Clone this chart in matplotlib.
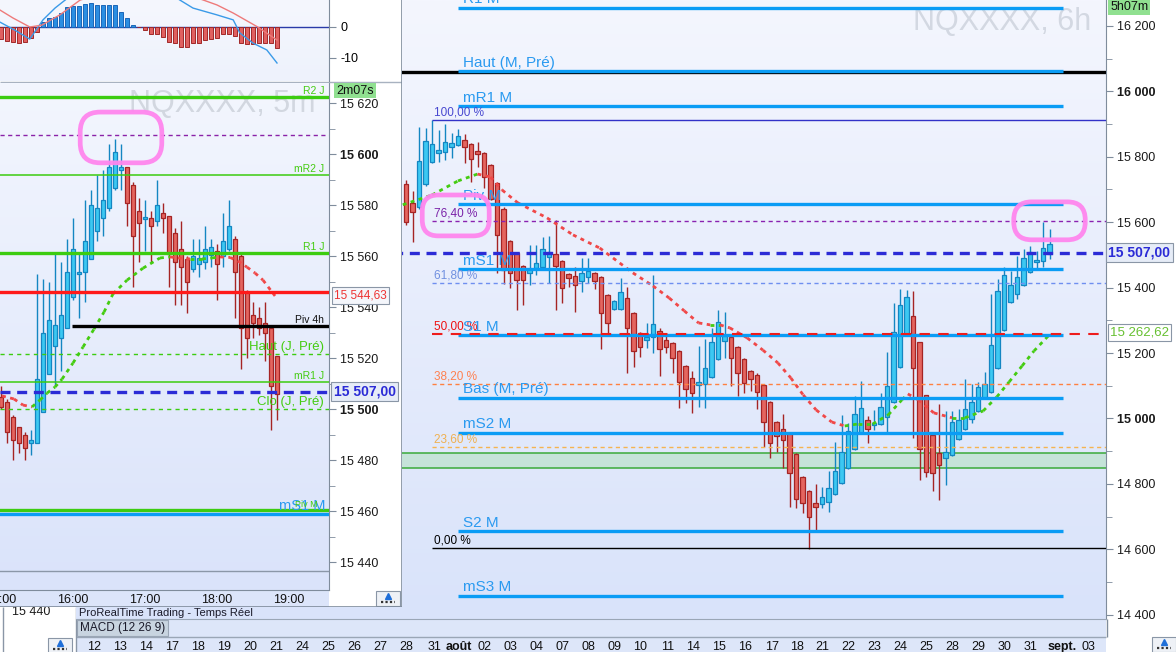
import matplotlib
matplotlib.use("Agg")
import matplotlib.pyplot as plt
from matplotlib.patches import Rectangle, FancyBboxPatch
from matplotlib.colors import LinearSegmentedColormap
import numpy as np

plt.rcParams['font.family'] = ['Liberation Sans', 'DejaVu Sans']

W, H = 1176, 652

# ---------------- 6h chart (NQXXXX, 6h) ----------------
h6_open = [15717, 15659, 15646, 15717, 15784, 15811, 15814, 15830, 15836, 15851,
           15839, 15818, 15811, 15775, 15720, 15640, 15543, 15506, 15466, 15445,
           15460, 15463, 15494, 15503, 15481, 15442, 15436, 15420, 15433, 15445,
           15433, 15377, 15335, 15335, 15368, 15322, 15261, 15240, 15249, 15267,
           15240, 15231, 15206, 15160, 15124, 15102, 15105, 15127, 15182, 15237,
           15249, 15219, 15182, 15145, 15133, 15102, 15050, 14989, 14968, 14956,
           14892, 14821, 14778, 14742, 14739, 14745, 14769, 14803, 14849, 14907,
           14956, 14995, 14980, 14983, 15005, 15050, 15157, 15255, 15313, 15234,
           15072, 14950, 14895, 14879, 14889, 14937, 14968, 14998, 15023, 15063,
           15081, 15154, 15271, 15356, 15380, 15408, 15448, 15478, 15481, 15503]
h6_high = [15729, 15695, 15891, 15888, 15912, 15882, 15900, 15873, 15885, 15869,
           15842, 15845, 15813, 15778, 15722, 15646, 15545, 15508, 15468, 15530,
           15530, 15555, 15558, 15607, 15483, 15444, 15463, 15491, 15491, 15447,
           15435, 15379, 15362, 15429, 15402, 15324, 15263, 15292, 15439, 15277,
           15261, 15233, 15208, 15162, 15145, 15222, 15243, 15277, 15332, 15326,
           15251, 15221, 15184, 15147, 15139, 15104, 15052, 14991, 15014, 14958,
           14894, 14823, 14780, 14800, 14791, 14840, 14928, 15011, 14986, 15069,
           15115, 15008, 15026, 15078, 15203, 15353, 15396, 15393, 15390, 15234,
           15072, 14950, 15044, 15023, 15023, 15029, 15121, 15106, 15112, 15142,
           15380, 15426, 15463, 15451, 15497, 15518, 15527, 15512, 15601, 15579]
h6_low = [15591, 15539, 15640, 15712, 15780, 15784, 15790, 15796, 15833, 15781,
          15723, 15769, 15704, 15668, 15445, 15411, 15399, 15332, 15347, 15408,
          15439, 15460, 15414, 15332, 15353, 15402, 15326, 15387, 15414, 15396,
          15212, 15261, 15332, 15332, 15139, 15157, 15188, 15215, 15200, 15130,
          15200, 15139, 15032, 15047, 15017, 15035, 15032, 15124, 15179, 15185,
          15099, 15069, 15078, 15084, 15029, 14913, 14879, 14898, 14849, 14730,
          14727, 14711, 14601, 14659, 14727, 14714, 14766, 14800, 14846, 14904,
          14953, 14925, 14965, 14980, 14959, 15047, 15154, 15252, 14940, 14812,
          14821, 14779, 14751, 14797, 14886, 14934, 14965, 14986, 15020, 15060,
          15078, 15151, 15268, 15353, 15365, 15405, 15445, 15460, 15463, 15488]
h6_close = [15601, 15631, 15787, 15848, 15839, 15821, 15845, 15842, 15863, 15830,
            15793, 15808, 15738, 15671, 15561, 15454, 15445, 15423, 15423, 15457,
            15475, 15518, 15509, 15466, 15399, 15429, 15408, 15445, 15451, 15420,
            15322, 15292, 15359, 15387, 15277, 15206, 15219, 15249, 15289, 15212,
            15219, 15185, 15112, 15090, 15078, 15112, 15154, 15234, 15295, 15252,
            15185, 15139, 15109, 15121, 15081, 14989, 14925, 14947, 14934, 14833,
            14754, 14742, 14699, 14730, 14760, 14788, 14840, 14898, 14962, 15014,
            15032, 14968, 14986, 15035, 15099, 15264, 15347, 15371, 15154, 14907,
            14837, 14834, 14858, 14898, 14989, 14995, 15029, 15050, 15096, 15106,
            15225, 15390, 15439, 15408, 15432, 15491, 15509, 15484, 15521, 15533]

# moving average (candle index, price)
ma6_x = [-0.5, 4, 8, 11, 13, 14.8, 17.2, 21.7, 25.7, 29.8, 34.9, 38, 40.5, 42.8,
         45, 46.8, 48.3, 49.8, 52.5, 54.9, 57.2, 59.2, 61.1, 63.1, 65.5, 67.5,
         69.5, 71.8, 74.2, 76.3, 77.2, 78.8, 81.2, 84, 86, 88.8, 90.9, 92.8,
         94.8, 96.6, 98.8]
ma6_y = [15653, 15683, 15726, 15747, 15738, 15698, 15659, 15613, 15561, 15521,
         15445, 15405, 15368, 15329, 15292, 15286, 15286, 15277, 15246, 15209,
         15170, 15124, 15072, 15026, 14989, 14977, 14983, 14983, 15011, 15057,
         15075, 15057, 15017, 15002, 15002, 15023, 15066, 15112, 15161, 15206,
         15252]

h6_dates = ["12", "13", "14", "17", "18", "19", "20", "21", "24", "25", "26", "27",
            "28", "31", "août", "02", "03", "04", "07", "08", "09", "10", "11",
            "14", "15", "16", "17", "18", "21", "22", "23", "24", "25", "28", "29",
            "30", "31", "sept.", "03"]
h6_date_pos = [-48, -44, -40, -36, -32, -28, -24, -20, -16, -12, -8, -4,
               0, 4.4, 8.1, 12, 16, 20, 24, 28, 32, 36, 40.2,
               44.2, 48.2, 52.2, 56.3, 60.2, 64, 68, 72, 76, 80, 84, 88,
               92, 96, 101, 105]

month_names = ["R1 M", "Haut (M, Pré)", "mR1 M", "Piv M", "mS1 M", "S1 M",
               "Bas (M, Pré)", "mS2 M", "S2 M", "mS3 M"]
month_levels = [16255, 16062, 15955, 15655, 15457, 15255, 15063, 14956, 14656, 14458]
month_start, month_end = 8, 101

fib_names = ["100,00 %", "76,40 %", "61,80 %", "50,00 %", "38,20 %", "23,60 %", "0,00 %"]
fib_levels = [15912, 15604, 15414, 15258, 15105, 14913, 14604]
fib_start = 4

zone_6h = [14849, 14895]
black_6h = 16059
last_price = 15507.00
fib50_price = 15262.62

# ---------------- 5m chart (NQXXXX, 5m) ----------------
m5_open = [15505, 15503, 15497, 15493, 15490, 15487, 15487, 15499, 15514, 15525,
           15528, 15532, 15544, 15553, 15554, 15559, 15570, 15575, 15579, 15587,
           15594, 15595, 15588, 15578, 15575, 15575, 15574, 15577, 15576, 15569,
           15563, 15559, 15555, 15557, 15558, 15560.5, 15562, 15560, 15563, 15567,
           15560, 15546, 15537, 15536, 15534, 15532, 15521]
m5_high = [15509, 15504, 15498, 15493, 15491, 15492, 15553, 15551, 15550, 15561,
           15558, 15567, 15575, 15561, 15582, 15586, 15592, 15594, 15604, 15606,
           15604, 15595, 15589, 15583, 15582, 15578, 15590, 15581, 15576, 15571,
           15574, 15560, 15567, 15567, 15572, 15567, 15565, 15577, 15582, 15568,
           15561, 15547, 15542, 15540, 15542, 15533, 15521]
m5_low = [15500, 15487, 15480, 15483, 15480, 15482, 15487, 15499, 15514, 15509,
          15515, 15532, 15543, 15536, 15542, 15559, 15566, 15568, 15578, 15586,
          15586, 15572, 15548, 15558, 15562, 15558, 15572, 15569, 15548, 15541,
          15541, 15538, 15554, 15552, 15555, 15556, 15543, 15556, 15562, 15536,
          15516, 15520, 15528, 15529, 15519, 15492, 15496]
m5_close = [15501, 15491, 15488, 15487, 15485, 15488, 15512, 15530, 15535, 15533,
            15537, 15554, 15563, 15554, 15566, 15580, 15579, 15582, 15595, 15601,
            15595, 15581, 15568, 15573, 15575.3, 15572, 15580, 15575, 15561, 15558,
            15556, 15550, 15560, 15559.5, 15563, 15563.5, 15557, 15566, 15572, 15554,
            15532, 15528, 15534, 15532, 15530, 15509, 15506]

maL_x = [0.17, 2.17, 3.67, 5.17, 6.5, 7.67, 9, 10.17, 12, 13.67, 15.5, 17.17,
         18.67, 21, 23.67, 26.5, 28.17, 29.5, 31.5, 33.5, 35.17, 36.5, 38.17,
         39.5, 41, 42.33, 43.67, 45.67]
maL_y = [15505.3, 15504.1, 15501.7, 15501.0, 15503.7, 15506.4, 15508.8, 15511.9,
         15518.2, 15524.5, 15531.5, 15538.2, 15545.3, 15550.7, 15555.4, 15559.4,
         15559.8, 15559.4, 15559.0, 15559.0, 15559.4, 15559.8, 15559.6, 15558.2,
         15555.8, 15553.5, 15550.7, 15544.5]

m5_times = ["15:00", "16:00", "17:00", "18:00", "19:00"]
m5_time_pos = [0, 12, 24, 36, 48]

day_names = ["R2 J", "mR2 J", "R1 J", "Haut (J, Pré)", "mR1 J", "Clo (J, Pré)"]
day_levels = [15622.5, 15591.9, 15561.3, 15521.7, 15510.8, 15500.2]
purple_5m = 15607.6
red_5m = 15546.0
red_5m_label = "15 544,63"
piv4h = 15532.7
piv4h_start = 11.8
piv_m_5m = 15460.6
ms1_m_5m = 15459.0
gray_5m = 15436.7

# MACD (12 26 9) on 5m
macd_hist = [-4.1, -4.5, -4.8, -5.1, -4.8, -3.8, -1.8, 1.5, 2.7, 3.2,
             4.3, 6.2, 6.7, 6.7, 7.3, 7.7, 6.9, 6.9, 6.9, 6.9,
             4.8, 2.7, 0.5, 0.0, -1.1, -2.2, -2.5, -3.2, -4.8, -5.1,
             -6.7, -6.5, -5.4, -5.4, -4.3, -4.1, -3.8, -2.2, -2.2, -3.0,
             -5.4, -5.7, -5.7, -5.4, -5.4, -5.4, -7.0]
macd_x = [-0.2, 2.3, 4.8, 7, 9, 10.7, 13, 18, 24, 27, 29.8, 32, 36, 38.7, 39.8, 42, 44.3, 46]
macd_line = [1.5, -1.1, -4.0, 2.2, 6.0, 8.6, 12, 15, 15, 12, 8.6, 6.0, 3.8, 2.2, -2.0, -5.3, -7.5, -11.7]
signal_x = [-0.2, 2, 4.8, 6.8, 9.8, 13.2, 18, 24, 30, 33.7, 36, 38.7, 42.7, 44.3, 46]
signal_line = [5.4, 2.8, -0.1, 0.5, 3.8, 8.6, 11, 12, 11, 8.6, 7.0, 4.4, 0.0, -2.1, -4.3]

# pink hand-drawn marks (x range, price range)
pink_5m = [13.2, 26.8, 15596.7, 15616.6]
pink_6h_a = [2.5, 12.8, 15558, 15683]
pink_6h_b = [93.5, 104.5, 15546, 15662]

# ---------------- styles ----------------
UP_FC, UP_EC = '#3cc8f2', '#1486c2'
DN_FC, DN_EC = '#e4655f', '#a52424'
LEVEL_BLUE = '#0a9cf5'
LABEL_BLUE = '#2a9af0'
PRICE_BLUE = '#2b2bd6'
GREEN = '#3ccc10'
MA_GREEN = '#44cc11'
MA_RED = '#f04848'
AXIS_GRAY = '#7f8c9c'


def fmt(v):
    return f"{v:,}".replace(",", " ")


def rect(x0, y0, x1, y1):
    return [x0 / W, 1 - y1 / H, (x1 - x0) / W, (y1 - y0) / H]


def gradient_bg(ax, top, bottom):
    cmap = LinearSegmentedColormap.from_list("bg", [bottom, top])
    grad = np.linspace(0, 1, 256).reshape(-1, 1)
    ax.imshow(grad, extent=[0, 1, 0, 1], transform=ax.transAxes, cmap=cmap,
              aspect='auto', origin='lower', zorder=0, interpolation='bilinear')


def candles(ax, o, h, l, c, width, min_body):
    for xi, (oi, hi, li, ci) in enumerate(zip(o, h, l, c)):
        up = ci >= oi
        fc = UP_FC if up else DN_FC
        ec = UP_EC if up else DN_EC
        ax.vlines(xi, li, hi, colors=ec, lw=1.0, zorder=4)
        hgt = max(abs(ci - oi), min_body)
        base = (oi + ci) / 2 - hgt / 2
        ax.add_patch(Rectangle((xi - width / 2, base), width, hgt, fc=fc, ec=ec,
                               lw=0.9, zorder=5))


def ma_line(ax, xs, ys):
    for i in range(len(xs) - 1):
        col = MA_GREEN if ys[i + 1] >= ys[i] else MA_RED
        ax.plot(xs[i:i + 2], ys[i:i + 2], color=col, lw=2.0, ls=(0, (1.4, 1.6)),
                zorder=6, dash_capstyle='butt')


def label(ax, x, y, text, color, size, ha='left', xcoord='data', dy=1.5, weight='normal'):
    ax.annotate(text, (x, y), xycoords=(xcoord, 'data'), xytext=(0, dy),
                textcoords='offset points', ha=ha, va='bottom', color=color,
                fontsize=size, zorder=8, annotation_clip=False, fontweight=weight)


def price_box(ax, y, text, color, fc, size=9, weight='normal', x=1.015):
    ax.text(x, y, text, transform=ax.get_yaxis_transform(), ha='left', va='center',
            color=color, fontsize=size, fontweight=weight, zorder=9, clip_on=False,
            bbox=dict(boxstyle='square,pad=0.18', fc=fc, ec='#8a96a6', lw=0.8))


def icon(ax, x, y):
    ax.add_patch(Rectangle((x, y), 24, 15, fc='#eef1f6', ec='#8a96a6', lw=0.8))
    ax.plot([x + 12], [y + 5], marker='^', ms=5, color='#1f6fd8')
    ax.hlines(y + 11, x + 5, x + 19, color='#333333', lw=1.6, linestyles=(0, (1, 1)))


fig = plt.figure(figsize=(W / 100, H / 100), dpi=100)
fig.patch.set_facecolor('white')

# ---------- background chrome ----------
axC = fig.add_axes(rect(0, 0, W, H), zorder=0)
axC.set_xlim(0, W)
axC.set_ylim(H, 0)
axC.axis('off')
axC.add_patch(Rectangle((76, 619), 1030, 33, fc='#dde6f9', ec='none'))
axC.hlines(637, 76, 1106, color='#9aa6b6', lw=1)
axC.vlines(1106.5, 619, 637, color=AXIS_GRAY, lw=1)
axC.vlines(76, 607, 652, color='#8a96a6', lw=1)
axC.vlines(3, 607, 652, color='#8a96a6', lw=1)
axC.add_patch(Rectangle((77, 620), 91, 16, fc='#c8d4e0', ec='#9aa6b6', lw=0.8))
axC.text(80, 628.5, "MACD (12 26 9)", fontsize=8.5, va='center', color='#1a1a2a')
axC.text(12, 612, "15 440", fontsize=9, va='center', color='#1a1a1a')
icon(axC, 48, 638)
icon(axC, 1152, 637)

# ---------- 6h chart ----------
ax6 = fig.add_axes(rect(76, 0, 1106, 619), zorder=1)
gradient_bg(ax6, '#f4f6fe', '#d9e3fa')
candles(ax6, h6_open, h6_high, h6_low, h6_close, 0.72, 5)
ma_line(ax6, ma6_x, ma6_y)

ax6.axhspan(zone_6h[0], zone_6h[1], fc='#c5e3d9', ec='none', zorder=2)
ax6.axhline(zone_6h[0], color='#3aaa3a', lw=1.1, zorder=2)
ax6.axhline(zone_6h[1], color='#3aaa3a', lw=1.1, zorder=2)

fib_colors = ['#3232c8', '#8a22b0', '#6f8ff0', '#ee1c1c', '#ff8040', '#f5b450', '#000000']
fib_text = ['#4848d0', '#7a22a8', '#7090e0', '#ee1111', '#ff8050', '#f0b050', '#000000']
for name, lv, col, tcol in zip(fib_names, fib_levels, fib_colors, fib_text):
    if name in ("100,00 %", "0,00 %"):
        ax6.hlines(lv, fib_start, 110, color=col, lw=1.0, zorder=6)
    elif name == "50,00 %":
        ax6.hlines(lv, fib_start, 110, color=col, lw=1.5, linestyles=(0, (5, 4)), zorder=7)
    else:
        ax6.hlines(lv, fib_start, 110, color=col, lw=1.0, linestyles=(0, (3, 2.5)), zorder=6)
    label(ax6, fib_start + 0.3, lv, name, tcol, 8.5, dy=1.0)

ax6.axhline(black_6h, color='black', lw=2.4, zorder=6)
for name, lv in zip(month_names, month_levels):
    ax6.hlines(lv, month_start, month_end, color=LEVEL_BLUE, lw=2.4, zorder=6)
    label(ax6, month_start + 0.8, lv, name, LABEL_BLUE, 11, dy=1.0)

ax6.axhline(last_price, color=PRICE_BLUE, lw=2.4, ls=(0, (3.0, 2.0)), zorder=7)

ax6.text(0.899, 0.964, "NQXXXX, 6h", transform=ax6.transAxes, ha='center', va='center',
         fontsize=22, color='#d3d8e2', zorder=1)

ax6.set_xlim((76 - 406) / 6.5, (1106 - 406) / 6.5)
ax6.set_ylim(14387, 16279)
ax6.yaxis.tick_right()
h6_ticks = list(range(14400, 16201, 200))
ax6.set_yticks(h6_ticks, [fmt(v) for v in h6_ticks])
ax6.set_yticks(list(range(14500, 16201, 200)), minor=True)
ax6.tick_params(axis='y', which='both', direction='out', color=AXIS_GRAY,
                labelcolor='#1a1a1a', labelsize=9, pad=3)
ax6.tick_params(axis='y', which='major', length=5)
ax6.tick_params(axis='y', which='minor', length=4)
for t in ax6.get_yticklabels():
    if t.get_text() in ("16 000", "15 000"):
        t.set_fontweight('bold')
ax6.set_xticks(h6_date_pos, h6_dates)
ax6.tick_params(axis='x', length=0, pad=16, labelsize=9, labelcolor='#111111')
for t in ax6.get_xticklabels():
    if t.get_text() in ("août", "sept."):
        t.set_fontweight('bold')
for s in ('left', 'top'):
    ax6.spines[s].set_visible(False)
ax6.spines['right'].set_color(AXIS_GRAY)
ax6.spines['bottom'].set_color('#9aa6b6')

price_box(ax6, last_price, fmt(int(last_price)) + ",00", PRICE_BLUE, '#e6ecf7',
          size=10, weight='bold', x=1.002)
price_box(ax6, fib50_price, "15 262,62", '#66c030', 'white', size=9.5, x=1.004)
ax6.text(1.004, 0.989, "5h07m", transform=ax6.transAxes, ha='left', va='center',
         fontsize=9, color='#111111', zorder=9, clip_on=False,
         bbox=dict(boxstyle='square,pad=0.15', fc='#90e090', ec='none'))

# ---------- left window (5m) ----------
axW = fig.add_axes(rect(0, 0, 402, 607), zorder=2)
axW.set_xlim(0, 402)
axW.set_ylim(607, 0)
axW.axis('off')
axW.add_patch(Rectangle((0, 0), 402, 607, fc='white', ec='none'))
axW.add_patch(Rectangle((0, 590), 329, 17, fc='#dce5fa', ec='none'))
axW.hlines(82, 0, 402, color='#a8b2c0', lw=1)
axW.vlines(401.5, 0, 607, color=AXIS_GRAY, lw=1.2)
axW.hlines(606.5, 0, 402, color=AXIS_GRAY, lw=1.2)
icon(axW, 376, 591)

# MACD pane
axM = fig.add_axes(rect(0, 0, 329, 81), zorder=3)
gradient_bg(axM, '#f5f7fe', '#eef2fc')
xs = np.arange(len(macd_hist))
axM.bar(xs, macd_hist, width=0.75,
        color=['#2b8ee2' if v > 0 else '#e06060' for v in macd_hist],
        edgecolor=['#1a66b8' if v > 0 else '#a02828' for v in macd_hist],
        lw=0.7, zorder=3)
axM.axhline(0, color='#2a3aa8', lw=1.0, zorder=2)
axM.plot(macd_x, macd_line, color='#3a9ae8', lw=1.0, zorder=4)
axM.plot(signal_x, signal_line, color='#ee7a7a', lw=1.0, zorder=4)
axM.set_xlim(-1 / 6, 328 / 6)
axM.set_ylim(-17.5, 8.6)
axM.yaxis.tick_right()
axM.set_yticks([0, -10], ["0", "-10"])
axM.set_xticks([])
axM.tick_params(axis='y', direction='out', length=5, color=AXIS_GRAY, labelsize=9, pad=3)
for s in ('left', 'top', 'bottom'):
    axM.spines[s].set_visible(False)
axM.spines['right'].set_color(AXIS_GRAY)

# price pane
axL = fig.add_axes(rect(0, 83, 329, 590), zorder=3)
gradient_bg(axL, '#f3f6fe', '#dae3fa')
axL.text(0.675, 0.958, "NQXXXX, 5m", transform=axL.transAxes, ha='center', va='center',
         fontsize=22, color='#d2d7e0', zorder=1)
candles(axL, m5_open, m5_high, m5_low, m5_close, 0.72, 0.6)
ma_line(axL, maL_x, maL_y)

styles = [dict(lw=2.4), dict(lw=1.1), dict(lw=2.4),
          dict(lw=1.0, ls=(0, (3, 3))), dict(lw=1.1), dict(lw=1.0, ls=(0, (3, 3)))]
label_sizes = [7.5, 7.5, 7.5, 9.5, 7.5, 9.5]
for name, lv, st, sz in zip(day_names, day_levels, styles, label_sizes):
    axL.axhline(lv, color=GREEN, zorder=6, **st)
    label(axL, 0.985, lv, name, '#44cc11', sz, ha='right', xcoord='axes fraction', dy=0.8)
axL.axhline(purple_5m, color='#8a22a8', lw=1.0, ls=(0, (3, 2.5)), zorder=6)
axL.axhline(red_5m, color='#ff1a1a', lw=2.4, zorder=6)
axL.hlines(piv4h, piv4h_start, 60, color='black', lw=2.4, zorder=6)
label(axL, 0.985, piv4h, "Piv 4h", '#111111', 7.5, ha='right', xcoord='axes fraction', dy=0.8)
axL.axhline(last_price, color=PRICE_BLUE, lw=2.4, ls=(0, (3.0, 2.0)), zorder=7)
axL.axhline(piv_m_5m, color=GREEN, lw=2.4, zorder=6)
axL.axhline(ms1_m_5m, color=LEVEL_BLUE, lw=2.4, zorder=6)
label(axL, 0.99, ms1_m_5m, "mS1 M", LABEL_BLUE, 10.5, ha='right', xcoord='axes fraction', dy=0.5)
label(axL, 0.965, piv_m_5m, "Piv M", '#44cc11', 6.5, ha='right', xcoord='axes fraction', dy=0.5)
axL.axhline(gray_5m, color='#8b97a8', lw=1.0, zorder=6)

axL.set_xlim(-1 / 6, 328 / 6)
axL.set_ylim(15429.2, 15628.0)
axL.yaxis.tick_right()
m5_ticks = list(range(15440, 15621, 20))
axL.set_yticks(m5_ticks, [fmt(v) for v in m5_ticks])
axL.set_yticks(list(range(15450, 15621, 20)), minor=True)
axL.tick_params(axis='y', which='both', direction='out', color=AXIS_GRAY,
                labelcolor='#1a1a1a', labelsize=9, pad=3)
axL.tick_params(axis='y', which='major', length=5)
axL.tick_params(axis='y', which='minor', length=4)
for t in axL.get_yticklabels():
    if t.get_text() in ("15 600", "15 500"):
        t.set_fontweight('bold')
axL.set_xticks(m5_time_pos, m5_times)
axL.tick_params(axis='x', length=0, pad=3, labelsize=9, labelcolor='#111111')
for s in ('left', 'top'):
    axL.spines[s].set_visible(False)
axL.spines['right'].set_color(AXIS_GRAY)
axL.spines['bottom'].set_color(AXIS_GRAY)

price_box(axL, last_price, fmt(int(last_price)) + ",00", PRICE_BLUE, '#e6ecf7',
          size=10, weight='bold')
price_box(axL, 15544.63, red_5m_label, '#ee3333', '#f4f6fb', size=8.5)
axL.text(1.022, 0.985, "2m07s", transform=axL.transAxes, ha='left', va='center',
         fontsize=9, color='#111111', zorder=9, clip_on=False,
         bbox=dict(boxstyle='square,pad=0.15', fc='#90e090', ec='none'))

# ---------- overlay: text strip and pink marks ----------
axO = fig.add_axes(rect(0, 0, W, H), zorder=6)
axO.set_xlim(0, W)
axO.set_ylim(H, 0)
axO.axis('off')
axO.text(79, 613, "ProRealTime Trading - Temps Réel", fontsize=8, va='center',
         color='#1a1a2a')


def pink_box(ax, box, radius):
    x0, x1, y0, y1 = box
    pts = ax.transData.transform([(x0, y0), (x1, y1)])
    px0, px1 = sorted(pts[:, 0])
    py0, py1 = sorted(H - pts[:, 1])
    axO.add_patch(FancyBboxPatch((px0, py0), px1 - px0, py1 - py0,
                                 boxstyle=f"round,pad=0,rounding_size={radius}",
                                 fc='none', ec='#ff86ee', lw=3.4, alpha=0.95))


pink_box(axL, pink_5m, 20)
pink_box(ax6, pink_6h_a, 16)
pink_box(ax6, pink_6h_b, 18)

fig.savefig("out.png", dpi=100)
